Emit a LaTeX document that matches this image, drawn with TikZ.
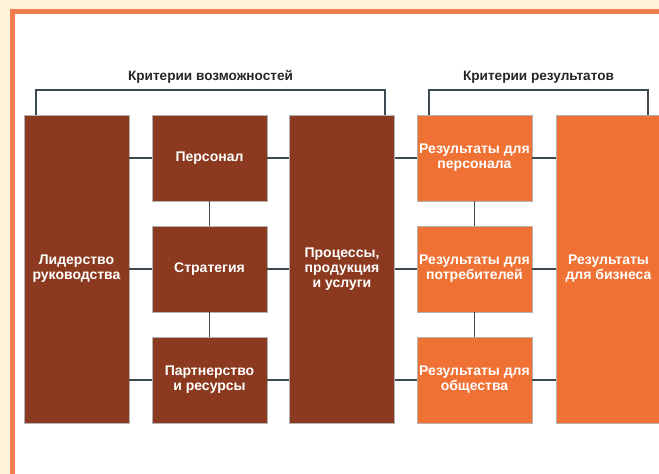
\documentclass[tikz,border=0pt]{standalone}
\usepackage{fontspec}
\setmainfont{Liberation Sans}
\definecolor{brn}{HTML}{8C3A1F}
\definecolor{orng}{HTML}{F07134}
\definecolor{frm}{HTML}{F27D4E}
\definecolor{crm}{HTML}{FEF3D8}
\definecolor{lnkc}{HTML}{3C4A50}

\begin{document}
\begin{tikzpicture}[x=1pt,y=-1pt,
   box/.style={rectangle,minimum width=115pt,minimum height=86pt,inner sep=0pt,
     draw=black!30,line width=.6pt,text=white,align=center,
     font=\fontsize{14}{15}\selectfont\bfseries},
   tall/.style={box,minimum width=105pt,minimum height=308pt},
   crit/.style={anchor=base,text=black!85,font=\fontsize{13.6}{15}\selectfont\bfseries},
   lnk/.style={draw=lnkc,line width=1.3pt}]
   \useasboundingbox (0,0) rectangle (659,474);
   \fill[crm] (0,0) rectangle (659,474);
   \fill[white] (12.5,11.5) rectangle (659,474);
   \draw[frm,line width=5pt] (12.5,474) -- (12.5,11.5) -- (659,11.5);

   \node[tall,fill=brn] (lead) at (76.5,269) {Лидерство\\руководства};
   \node[box,fill=brn] (pers) at (209.5,158) {Персонал};
   \node[box,fill=brn] (strat) at (209.5,269) {Стратегия};
   \node[box,fill=brn] (part) at (209.5,380) {Партнерство\\и ресурсы};
   \node[tall,fill=brn] (proc) at (342,269) {Процессы,\\продукция\\и услуги};

   \node[box,fill=orng] (rpers) at (474.5,158) {Результаты для\\персонала};
   \node[box,fill=orng] (rcons) at (474.5,269) {Результаты для\\потребителей};
   \node[box,fill=orng] (rsoc) at (474.5,380) {Результаты для\\общества};
   \node[tall,fill=orng] (biz) at (608.5,269) {Результаты\\для бизнеса};

   \node[crit] (cposs) at (210.5,80.5) {Критерии возможностей};
   \node[crit] (cres) at (538.5,80.5) {Критерии результатов};

   \coordinate (bl1) at (36,90);
   \coordinate (br1) at (385,90);
   \coordinate (bl2) at (429,90);
   \coordinate (br2) at (648,90);
   \draw[lnk] (lead.north -| bl1) -- (bl1) -- (br1) -- (proc.north -| br1);
   \draw[lnk] (rpers.north -| bl2) -- (bl2) -- (br2) -- (biz.north -| br2);

   \foreach \r in {pers,strat,part} {
      \draw[lnk] (lead.east |- \r) -- (\r.west);
      \draw[lnk] (\r.east) -- (proc.west |- \r);
   }
   \foreach \r in {rpers,rcons,rsoc} {
      \draw[lnk] (proc.east |- \r) -- (\r.west);
      \draw[lnk] (\r.east) -- (biz.west |- \r);
   }
   \draw[lnk] (pers.south) -- (strat.north);
   \draw[lnk] (strat.south) -- (part.north);
   \draw[lnk] (rpers.south) -- (rcons.north);
   \draw[lnk] (rcons.south) -- (rsoc.north);
\end{tikzpicture}
\end{document}
